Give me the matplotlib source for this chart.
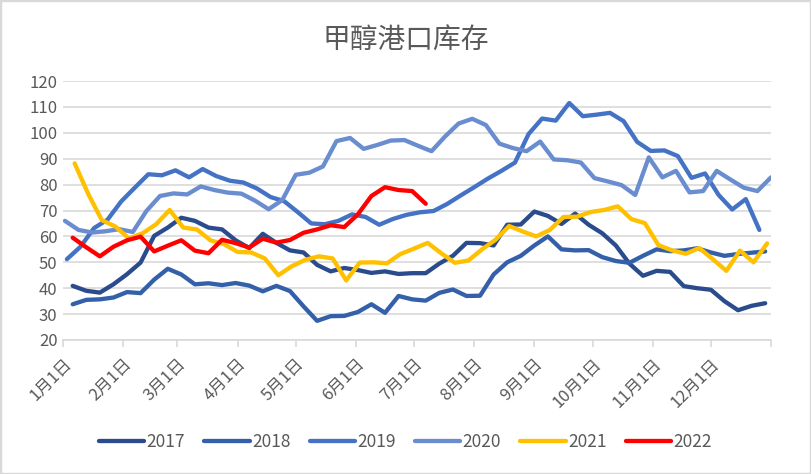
import numpy as np
import matplotlib.pyplot as plt
from matplotlib.patches import Rectangle

plt.rcParams['font.family'] = ['Noto Sans CJK SC', 'DejaVu Sans']

# 月份刻度（按年内天数）
month_days = [0, 31, 59, 90, 120, 151, 181, 212, 243, 273, 304, 334, 365]
month_labels = ['1月1日', '2月1日', '3月1日', '4月1日', '5月1日', '6月1日',
                '7月1日', '8月1日', '9月1日', '10月1日', '11月1日', '12月1日', '']

# 每年第一周的日期（年内第几天），之后每周一个数据
years = ['2017', '2018', '2019', '2020', '2021', '2022']
first_day = [5, 5, 2, 1, 6, 5]

# 周度港口库存（万吨）
stock_2017 = [40.9, 39, 38.3, 41.5, 45.4, 49.9, 60.2, 63.4, 67.2, 66, 63.4, 62.7, 58.5,
              55.5, 61, 57.5, 54.6, 53.8, 49, 46.5, 47.8, 47, 45.9, 46.5, 45.5, 45.8,
              45.8, 49.5, 52.5, 57.5, 57.4, 56.5, 64.5, 64.6, 69.6, 67.9, 64.8, 68.8, 64.5,
              61.2, 56.5, 49.5, 44.8, 46.7, 46.3, 40.8, 40, 39.4, 35, 31.5, 33.2, 34.2]
stock_2018 = [33.8, 35.5, 35.7, 36.4, 38.5, 38.1, 43.3, 47.5, 45.3, 41.5, 41.9, 41.2, 42,
              41, 38.8, 40.9, 38.9, 33, 27.4, 29.2, 29.3, 30.8, 33.8, 30.5, 37, 35.7,
              35.2, 38.2, 39.5, 37, 37.1, 45.3, 50, 52.5, 56.5, 60, 55, 54.6, 54.7,
              52, 50.5, 49.8, 52.5, 55, 54.3, 54.6, 55.4, 53.8, 52.5, 53.2, 53.7, 54.2]
stock_2019 = [51.2, 56, 63.2, 66.5, 73.5, 78.8, 84, 83.6, 85.5, 82.8, 86, 83.3, 81.5,
              80.8, 78.5, 75.2, 73.6, 69.4, 65, 64.7, 66, 68.5, 67.5, 64.5, 66.7, 68.3,
              69.3, 69.8, 72.5, 75.8, 79, 82.3, 85.3, 88.5, 99.5, 105.5, 104.7, 111.5, 106.4,
              107, 107.7, 104.5, 96.5, 93, 93.2, 91, 82.6, 84.3, 76, 70.4, 74.4, 62.5]
stock_2020 = [66, 62.5, 61.5, 62, 62.8, 61.7, 69.8, 75.6, 76.6, 76.2, 79.3, 77.9, 76.9, 76.5,
              73.8, 70.5, 74, 83.8, 84.6, 87, 96.8, 98, 93.8, 95.3, 97, 97.2, 95,
              92.9, 98.6, 103.6, 105.4, 103, 95.8, 94.1, 92.9, 96.6, 89.7, 89.4, 88.5,
              82.5, 81.2, 79.8, 76, 90.5, 82.8, 85.3, 77, 77.5, 85.3, 82, 78.8, 77.5, 82.8]
stock_2021 = [88.2, 76.4, 66.3, 63.8, 59.2, 61.2, 64.7, 70.2, 63.4, 62.7, 58.5, 57, 54,
              53.8, 51.5, 45, 48.5, 51, 52.3, 51.5, 43, 49.9, 50, 49.6, 53.2, 55.3,
              57.5, 53.5, 49.8, 50.7, 55, 58.7, 64, 61.9, 60, 62.5, 67.5, 67.6, 69.4,
              70.2, 71.6, 66.7, 65.1, 56.6, 54.6, 53.3, 55.5, 51.2, 46.7, 54.5, 50, 57.3]
stock_2022 = [59.5, 55.8, 52.3, 56, 58.5, 59.9, 54.2, 56.4, 58.5, 54.5, 53.5, 58.7, 57.4,
              55.7, 59.1, 57.6, 58.6, 61.4, 62.7, 64.3, 63.6, 68.5, 75.6, 79, 77.9, 77.5, 72.6]

series = [stock_2017, stock_2018, stock_2019, stock_2020, stock_2021, stock_2022]
colors = ['#2B4C8C', '#3460AA', '#4472C4', '#6A8DD0', '#FFC000', '#FF0000']

grey_text = '#595959'
grid_col = '#D9D9D9'

fig = plt.figure(figsize=(8.11, 4.74), dpi=100)
ax = fig.add_axes([63 / 811, 1 - 340 / 474, 708 / 811, 259 / 474])

for name, vals, start, col in zip(years, series, first_day, colors):
    days = start + 7 * np.arange(len(vals))
    ax.plot(days, vals, color=col, lw=3.1, label=name,
            solid_joinstyle='round', solid_capstyle='round')

ax.set_xlim(0, 365)
ax.set_ylim(20, 120)
ax.set_yticks(np.arange(20, 121, 10))
ax.yaxis.grid(True, color=grid_col, lw=1.2)
ax.set_axisbelow(True)
ax.tick_params(axis='y', length=0, pad=4, labelsize=12, labelcolor=grey_text)

ax.set_xticks(month_days)
ax.set_xticklabels(month_labels, rotation=45, ha='right', rotation_mode='anchor')
ax.tick_params(axis='x', length=5, width=1.2, color=grid_col, pad=6,
               labelsize=12, labelcolor=grey_text)

for side in ['left', 'right', 'top']:
    ax.spines[side].set_visible(False)
ax.spines['bottom'].set_color(grid_col)
ax.spines['bottom'].set_linewidth(1.2)

fig.text(0.5, 1 - 40 / 474, '甲醇港口库存', ha='center', va='center',
         fontsize=20, color=grey_text)

fig.legend(loc='center', bbox_to_anchor=(0.5, 1 - 442 / 474), ncol=6, frameon=False,
           fontsize=12.5, labelcolor=grey_text, handlelength=2.6, handletextpad=0.15,
           columnspacing=1.1)

fig.patches.append(Rectangle((0, 0), 1, 1, transform=fig.transFigure, fill=False,
                             edgecolor=grid_col, lw=2.5))

fig.savefig('out.png', dpi=100)
